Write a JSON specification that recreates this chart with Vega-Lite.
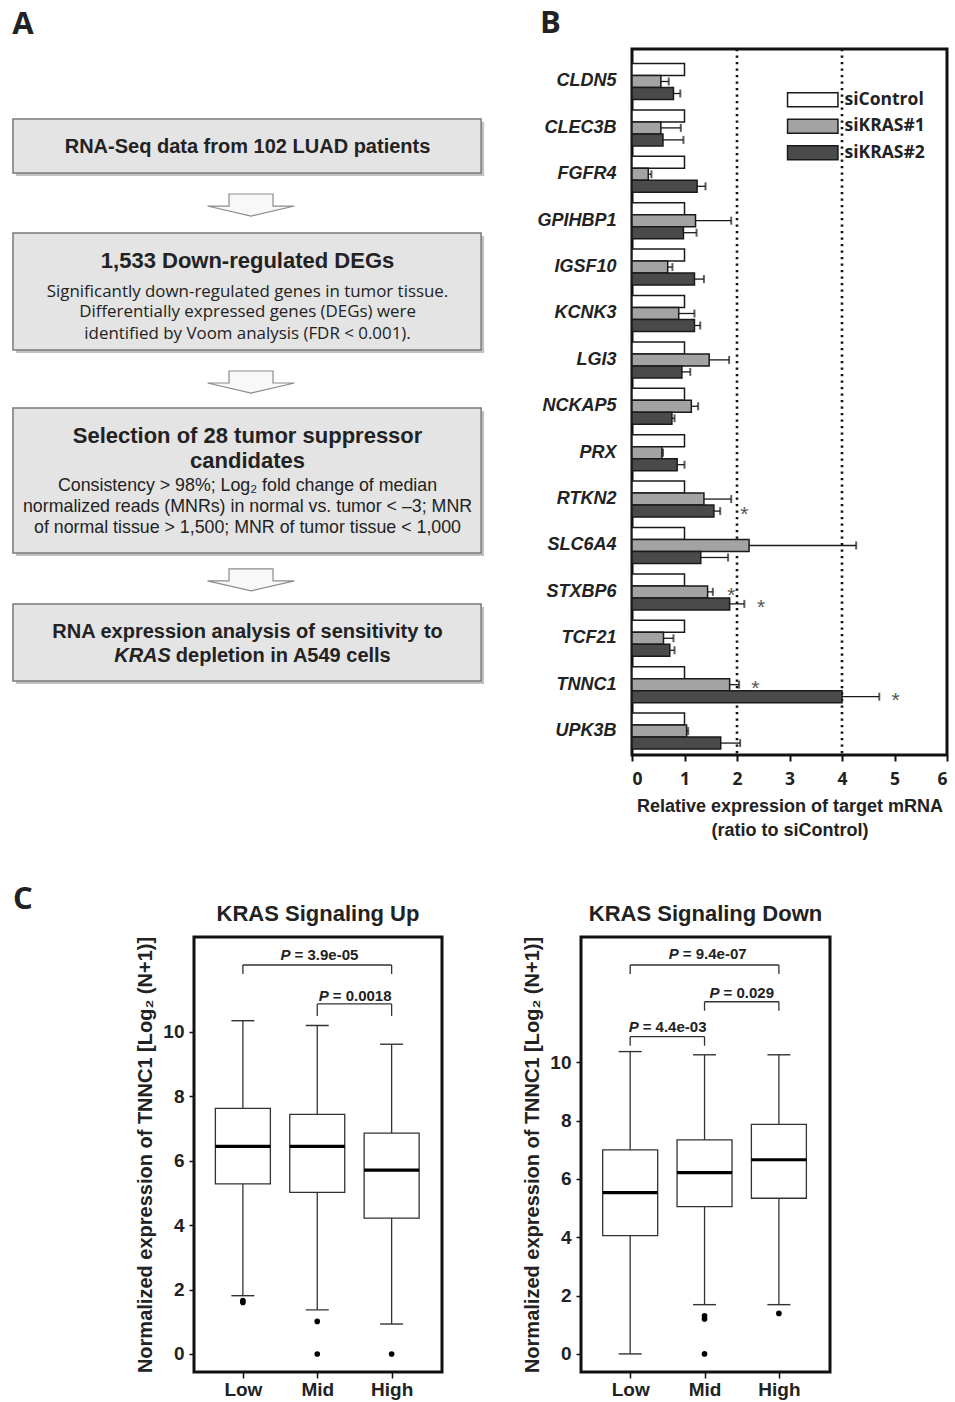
{
  "$schema": "https://vega.github.io/schema/vega-lite/v6.json",
  "background": "white",
  "padding": {"left": 12, "top": 6, "right": 4, "bottom": 4},
  "config": {
    "font": "Liberation Sans",
    "view": {"stroke": "#111111", "strokeWidth": 3},
    "axis": {"grid": false, "labelColor": "#222222", "titleColor": "#222222", "tickColor": "#111111", "titleFontWeight": "bold", "labelFontWeight": "bold"},
    "title": {"color": "#222222"}
  },
  "datasets": {
    "boxes": [
      {"x0": 0, "x1": 99.6, "y0": 9.92, "y1": 17.56},
      {"x0": 0, "x1": 99.6, "y0": 26.06, "y1": 42.63},
      {"x0": 0, "x1": 99.6, "y0": 50.85, "y1": 71.39},
      {"x0": 0, "x1": 99.6, "y0": 78.61, "y1": 89.52}
    ],
    "arrows": [
      {"ax": 50.64, "ay": 22.1},
      {"ax": 50.64, "ay": 47.17},
      {"ax": 50.64, "ay": 75.2}
    ],
    "ftext": [
      {"tx": 49.9, "ty": 14.73, "t": "RNA-Seq data from 102 LUAD patients", "k": "b"},
      {"tx": 49.9, "ty": 31.06, "t": "1,533 Down-regulated DEGs", "k": "h"},
      {"tx": 49.9, "ty": 35.06, "t": "Significantly down-regulated genes in tumor tissue.", "k": "n"},
      {"tx": 49.9, "ty": 38.03, "t": "Differentially expressed genes (DEGs) were", "k": "n"},
      {"tx": 49.9, "ty": 41.01, "t": "identified by Voom analysis (FDR < 0.001).", "k": "n"},
      {"tx": 49.9, "ty": 55.76, "t": "Selection of 28 tumor suppressor", "k": "h"},
      {"tx": 49.9, "ty": 59.39, "t": "candidates", "k": "h"},
      {"tx": 49.9, "ty": 62.61, "t": "Consistency > 98%; Log₂ fold change of median", "k": "c"},
      {"tx": 49.9, "ty": 65.62, "t": "normalized reads (MNRs) in normal vs. tumor < –3; MNR", "k": "c"},
      {"tx": 49.9, "ty": 68.51, "t": "of normal tissue > 1,500; MNR of tumor tissue < 1,000", "k": "c"},
      {"tx": 49.9, "ty": 83.47, "t": "RNA expression analysis of sensitivity to", "k": "b"},
      {"tx": 33.8, "ty": 86.78, "t": "KRAS", "k": "i"},
      {"tx": 33.8, "ty": 86.78, "t": "depletion in A549 cells", "k": "r"}
    ],
    "bars": [
      {"gene": "CLDN5", "series": "siControl", "value": 1.0},
      {"gene": "CLDN5", "series": "siKRAS#1", "value": 0.55, "hi": 0.70},
      {"gene": "CLDN5", "series": "siKRAS#2", "value": 0.79, "hi": 0.92},
      {"gene": "CLEC3B", "series": "siControl", "value": 1.0},
      {"gene": "CLEC3B", "series": "siKRAS#1", "value": 0.55, "hi": 0.93},
      {"gene": "CLEC3B", "series": "siKRAS#2", "value": 0.59, "hi": 0.98},
      {"gene": "FGFR4", "series": "siControl", "value": 1.0},
      {"gene": "FGFR4", "series": "siKRAS#1", "value": 0.31, "hi": 0.37},
      {"gene": "FGFR4", "series": "siKRAS#2", "value": 1.24, "hi": 1.40},
      {"gene": "GPIHBP1", "series": "siControl", "value": 1.0},
      {"gene": "GPIHBP1", "series": "siKRAS#1", "value": 1.21, "hi": 1.89},
      {"gene": "GPIHBP1", "series": "siKRAS#2", "value": 0.98, "hi": 1.23},
      {"gene": "IGSF10", "series": "siControl", "value": 1.0},
      {"gene": "IGSF10", "series": "siKRAS#1", "value": 0.68, "hi": 0.77},
      {"gene": "IGSF10", "series": "siKRAS#2", "value": 1.19, "hi": 1.37},
      {"gene": "KCNK3", "series": "siControl", "value": 1.0},
      {"gene": "KCNK3", "series": "siKRAS#1", "value": 0.89, "hi": 1.19},
      {"gene": "KCNK3", "series": "siKRAS#2", "value": 1.19, "hi": 1.30},
      {"gene": "LGI3", "series": "siControl", "value": 1.0},
      {"gene": "LGI3", "series": "siKRAS#1", "value": 1.47, "hi": 1.85},
      {"gene": "LGI3", "series": "siKRAS#2", "value": 0.95, "hi": 1.11},
      {"gene": "NCKAP5", "series": "siControl", "value": 1.0},
      {"gene": "NCKAP5", "series": "siKRAS#1", "value": 1.13, "hi": 1.26},
      {"gene": "NCKAP5", "series": "siKRAS#2", "value": 0.76, "hi": 0.81},
      {"gene": "PRX", "series": "siControl", "value": 1.0},
      {"gene": "PRX", "series": "siKRAS#1", "value": 0.57, "hi": 0.59},
      {"gene": "PRX", "series": "siKRAS#2", "value": 0.86, "hi": 1.00},
      {"gene": "RTKN2", "series": "siControl", "value": 1.0},
      {"gene": "RTKN2", "series": "siKRAS#1", "value": 1.37, "hi": 1.89},
      {"gene": "RTKN2", "series": "siKRAS#2", "value": 1.56, "hi": 1.68},
      {"gene": "SLC6A4", "series": "siControl", "value": 1.0},
      {"gene": "SLC6A4", "series": "siKRAS#1", "value": 2.23, "hi": 4.27},
      {"gene": "SLC6A4", "series": "siKRAS#2", "value": 1.31, "hi": 1.83},
      {"gene": "STXBP6", "series": "siControl", "value": 1.0},
      {"gene": "STXBP6", "series": "siKRAS#1", "value": 1.44, "hi": 1.54},
      {"gene": "STXBP6", "series": "siKRAS#2", "value": 1.86, "hi": 2.14},
      {"gene": "TCF21", "series": "siControl", "value": 1.0},
      {"gene": "TCF21", "series": "siKRAS#1", "value": 0.60, "hi": 0.79},
      {"gene": "TCF21", "series": "siKRAS#2", "value": 0.72, "hi": 0.81},
      {"gene": "TNNC1", "series": "siControl", "value": 1.0},
      {"gene": "TNNC1", "series": "siKRAS#1", "value": 1.86, "hi": 2.04},
      {"gene": "TNNC1", "series": "siKRAS#2", "value": 4.00, "hi": 4.71},
      {"gene": "UPK3B", "series": "siControl", "value": 1.0},
      {"gene": "UPK3B", "series": "siKRAS#1", "value": 1.04, "hi": 1.07},
      {"gene": "UPK3B", "series": "siKRAS#2", "value": 1.69, "hi": 2.06}
    ],
    "stars": [
      {"gene": "RTKN2", "series": "siKRAS#2", "sx": 2.14},
      {"gene": "STXBP6", "series": "siKRAS#1", "sx": 1.89},
      {"gene": "STXBP6", "series": "siKRAS#2", "sx": 2.46},
      {"gene": "TNNC1", "series": "siKRAS#1", "sx": 2.35},
      {"gene": "TNNC1", "series": "siKRAS#2", "sx": 5.02}
    ],
    "cbox": [
      {"p": "up", "g": 0, "lo": 1.81, "q1": 5.28, "med": 6.45, "q3": 7.63, "hi": 10.35},
      {"p": "up", "g": 1, "lo": 1.37, "q1": 5.02, "med": 6.45, "q3": 7.44, "hi": 10.2},
      {"p": "up", "g": 2, "lo": 0.93, "q1": 4.22, "med": 5.71, "q3": 6.86, "hi": 9.62},
      {"p": "down", "g": 0, "lo": 0.0, "q1": 4.06, "med": 5.53, "q3": 7.0, "hi": 10.37},
      {"p": "down", "g": 1, "lo": 1.69, "q1": 5.05, "med": 6.22, "q3": 7.34, "hi": 10.26},
      {"p": "down", "g": 2, "lo": 1.69, "q1": 5.34, "med": 6.66, "q3": 7.87, "hi": 10.26}
    ],
    "outl": [
      {"p": "up", "g": 0, "v": 1.6},
      {"p": "up", "g": 0, "v": 1.66},
      {"p": "up", "g": 1, "v": 1.01},
      {"p": "up", "g": 1, "v": 0.0},
      {"p": "up", "g": 2, "v": 0.0},
      {"p": "down", "g": 1, "v": 1.31},
      {"p": "down", "g": 1, "v": 1.2},
      {"p": "down", "g": 1, "v": 0.0},
      {"p": "down", "g": 2, "v": 1.39}
    ],
    "brk": [
      {"p": "up", "x1": 0, "x2": 2, "y": 12.08, "yl": 11.8},
      {"p": "up", "x1": 1, "x2": 2, "y": 10.87, "yl": 10.5},
      {"p": "down", "x1": 0, "x2": 2, "y": 13.34, "yl": 13.03},
      {"p": "down", "x1": 1, "x2": 2, "y": 12.08, "yl": 11.77},
      {"p": "down", "x1": 0, "x2": 1, "y": 10.88, "yl": 10.57}
    ],
    "plab": [
      {"p": "up", "lx": 0.507, "ly": 12.39, "t": "= 3.9e-05"},
      {"p": "up", "lx": 1.02, "ly": 11.13, "t": "= 0.0018"},
      {"p": "down", "lx": 0.52, "ly": 13.71, "t": "= 9.4e-07"},
      {"p": "down", "lx": 1.067, "ly": 12.38, "t": "= 0.029"},
      {"p": "down", "lx": -0.02, "ly": 11.22, "t": "= 4.4e-03"}
    ],
    "letter": [
      {"lx": 0, "ly": 1.064, "t": "C"}
    ]
  },
  "spacing": 43,
  "resolve": {"legend": {"fill": "independent"}},
  "vconcat": [
    {
      "spacing": 50,
      "resolve": {"legend": {"fill": "independent"}},
      "hconcat": [
        {
          "title": {"text": "A", "anchor": "start", "frame": "bounds", "font": "Open Sans", "fontSize": 31, "fontWeight": "bold", "offset": 8},
          "width": 470,
          "height": 706,
          "view": {"stroke": null},
          "layer": [
            {
              "data": {"name": "boxes"},
              "mark": {"type": "rect", "fill": "#8f8f8f", "opacity": 0.55, "xOffset": 3, "x2Offset": 3, "yOffset": 3, "y2Offset": 3},
              "encoding": {
                "x": {"field": "x0", "type": "quantitative", "scale": {"domain": [0, 100], "nice": false}, "axis": null},
                "x2": {"field": "x1"},
                "y": {"field": "y0", "type": "quantitative", "scale": {"domain": [0, 100], "nice": false, "reverse": true}, "axis": null},
                "y2": {"field": "y1"}
              }
            },
            {
              "data": {"name": "boxes"},
              "mark": {"type": "rect", "fill": "#e4e4e4", "stroke": "#7a7a7a", "strokeWidth": 1.5},
              "encoding": {
                "x": {"field": "x0", "type": "quantitative", "axis": null},
                "x2": {"field": "x1"},
                "y": {"field": "y0", "type": "quantitative", "axis": null},
                "y2": {"field": "y1"}
              }
            },
            {
              "data": {"name": "arrows"},
              "mark": {"type": "point", "shape": "M-0.506,-0.253L0.506,-0.253L0.506,0.023L1,0.023L0,0.253L-1,0.023L-0.506,0.023Z", "size": 7569, "filled": true, "fill": "#f8f8f8", "stroke": "#8c8c8c", "strokeWidth": 1.2, "opacity": 1},
              "encoding": {
                "x": {"field": "ax", "type": "quantitative", "axis": null},
                "y": {"field": "ay", "type": "quantitative", "axis": null}
              }
            },
            {
              "data": {"name": "ftext"},
              "transform": [{"filter": {"field": "k", "equal": "h"}}],
              "mark": {"type": "text", "font": "Liberation Sans", "fontSize": 22, "fontWeight": "bold", "color": "#222222", "align": "center", "baseline": "alphabetic"},
              "encoding": {
                "x": {"field": "tx", "type": "quantitative", "axis": null},
                "y": {"field": "ty", "type": "quantitative", "axis": null},
                "text": {"field": "t"}
              }
            },
            {
              "data": {"name": "ftext"},
              "transform": [{"filter": {"field": "k", "equal": "b"}}],
              "mark": {"type": "text", "font": "Liberation Sans", "fontSize": 20, "fontWeight": "bold", "color": "#222222", "align": "center", "baseline": "alphabetic"},
              "encoding": {
                "x": {"field": "tx", "type": "quantitative", "axis": null},
                "y": {"field": "ty", "type": "quantitative", "axis": null},
                "text": {"field": "t"}
              }
            },
            {
              "data": {"name": "ftext"},
              "transform": [{"filter": {"field": "k", "equal": "n"}}],
              "mark": {"type": "text", "font": "Open Sans", "fontSize": 16.9, "color": "#222222", "align": "center", "baseline": "alphabetic"},
              "encoding": {
                "x": {"field": "tx", "type": "quantitative", "axis": null},
                "y": {"field": "ty", "type": "quantitative", "axis": null},
                "text": {"field": "t"}
              }
            },
            {
              "data": {"name": "ftext"},
              "transform": [{"filter": {"field": "k", "equal": "c"}}],
              "mark": {"type": "text", "font": "Liberation Sans", "fontSize": 17.8, "color": "#222222", "align": "center", "baseline": "alphabetic"},
              "encoding": {
                "x": {"field": "tx", "type": "quantitative", "axis": null},
                "y": {"field": "ty", "type": "quantitative", "axis": null},
                "text": {"field": "t"}
              }
            },
            {
              "data": {"name": "ftext"},
              "transform": [{"filter": {"field": "k", "equal": "i"}}],
              "mark": {"type": "text", "font": "Liberation Sans", "fontSize": 20, "fontWeight": "bold", "fontStyle": "italic", "color": "#222222", "align": "right", "baseline": "alphabetic", "dx": -1},
              "encoding": {
                "x": {"field": "tx", "type": "quantitative", "axis": null},
                "y": {"field": "ty", "type": "quantitative", "axis": null},
                "text": {"field": "t"}
              }
            },
            {
              "data": {"name": "ftext"},
              "transform": [{"filter": {"field": "k", "equal": "r"}}],
              "mark": {"type": "text", "font": "Liberation Sans", "fontSize": 20, "fontWeight": "bold", "color": "#222222", "align": "left", "baseline": "alphabetic", "dx": 4},
              "encoding": {
                "x": {"field": "tx", "type": "quantitative", "axis": null},
                "y": {"field": "ty", "type": "quantitative", "axis": null},
                "text": {"field": "t"}
              }
            }
          ]
        },
        {
          "title": {"text": "B", "anchor": "start", "frame": "bounds", "font": "Open Sans", "fontSize": 31, "fontWeight": "bold", "offset": 8, "dx": 3},
          "width": 315,
          "height": 706,
          "layer": [
            {
              "data": {"values": [{"value": 2}, {"value": 4}]},
              "mark": {"type": "rule", "strokeDash": [2.2, 4.3], "strokeWidth": 2.6, "color": "#111111"},
              "encoding": {
                "x": {"field": "value", "type": "quantitative", "title": ["Relative expression of target mRNA", "(ratio to siControl)"]}
              }
            },
            {
              "data": {"name": "bars"},
              "mark": {"type": "bar", "stroke": "#1a1a1a", "strokeWidth": 1.5},
              "encoding": {
                "y": {"field": "gene", "type": "nominal", "sort": ["CLDN5", "CLEC3B", "FGFR4", "GPIHBP1", "IGSF10", "KCNK3", "LGI3", "NCKAP5", "PRX", "RTKN2", "SLC6A4", "STXBP6", "TCF21", "TNNC1", "UPK3B"], "scale": {"paddingInner": 0.224, "paddingOuter": 0.22, "align": 0.71}, "title": null, "axis": {"ticks": false, "domain": false, "labelFont": "Liberation Sans", "labelFontStyle": "italic", "labelFontWeight": "bold", "labelFontSize": 18, "labelPadding": 16}},
                "yOffset": {"field": "series", "type": "nominal", "sort": ["siControl", "siKRAS#1", "siKRAS#2"]},
                "x": {"field": "value", "type": "quantitative", "scale": {"domain": [0, 6], "nice": false}, "title": ["Relative expression of target mRNA", "(ratio to siControl)"], "axis": {"values": [0, 1, 2, 3, 4, 5, 6], "tickSize": 6, "tickWidth": 2, "domain": false, "labelFont": "Open Sans", "labelFontSize": 17.5, "labelFontWeight": "bold", "labelPadding": 9, "titleFont": "Liberation Sans", "titleFontSize": 18, "titleFontWeight": "bold", "titlePadding": 10, "titleLineHeight": 24}},
                "fill": {"field": "series", "type": "nominal", "scale": {"domain": ["siControl", "siKRAS#1", "siKRAS#2"], "range": ["#ffffff", "#a3a3a3", "#4a4a4a"]}, "legend": {"title": null, "orient": "none", "legendX": 172, "legendY": 42, "symbolType": "M-3.6,-1H3.6V1H-3.6Z", "symbolSize": 196, "symbolStrokeColor": "#1a1a1a", "symbolStrokeWidth": 1.5, "symbolOpacity": 1, "labelFont": "Open Sans", "labelFontSize": 17.5, "labelFontWeight": "bold", "labelColor": "#222222", "labelOffset": 23, "rowPadding": 5.5, "padding": 0}}
              }
            },
            {
              "data": {"name": "bars"},
              "transform": [{"filter": {"field": "hi", "valid": true}}],
              "mark": {"type": "rule", "color": "#1a1a1a", "strokeWidth": 1.3},
              "encoding": {
                "y": {"field": "gene", "type": "nominal", "sort": ["CLDN5", "CLEC3B", "FGFR4", "GPIHBP1", "IGSF10", "KCNK3", "LGI3", "NCKAP5", "PRX", "RTKN2", "SLC6A4", "STXBP6", "TCF21", "TNNC1", "UPK3B"], "title": null},
                "yOffset": {"field": "series", "type": "nominal", "sort": ["siControl", "siKRAS#1", "siKRAS#2"]},
                "x": {"field": "value", "type": "quantitative", "title": ["Relative expression of target mRNA", "(ratio to siControl)"]},
                "x2": {"field": "hi"}
              }
            },
            {
              "data": {"name": "bars"},
              "transform": [{"filter": {"field": "hi", "valid": true}}],
              "mark": {"type": "tick", "color": "#1a1a1a", "thickness": 2, "size": 8},
              "encoding": {
                "y": {"field": "gene", "type": "nominal", "sort": ["CLDN5", "CLEC3B", "FGFR4", "GPIHBP1", "IGSF10", "KCNK3", "LGI3", "NCKAP5", "PRX", "RTKN2", "SLC6A4", "STXBP6", "TCF21", "TNNC1", "UPK3B"], "title": null},
                "yOffset": {"field": "series", "type": "nominal", "sort": ["siControl", "siKRAS#1", "siKRAS#2"]},
                "x": {"field": "hi", "type": "quantitative", "title": ["Relative expression of target mRNA", "(ratio to siControl)"]}
              }
            },
            {
              "data": {"name": "stars"},
              "mark": {"type": "text", "text": "*", "font": "Liberation Sans", "fontSize": 21, "color": "#555555", "align": "center", "baseline": "middle", "dy": 4},
              "encoding": {
                "y": {"field": "gene", "type": "nominal", "sort": ["CLDN5", "CLEC3B", "FGFR4", "GPIHBP1", "IGSF10", "KCNK3", "LGI3", "NCKAP5", "PRX", "RTKN2", "SLC6A4", "STXBP6", "TCF21", "TNNC1", "UPK3B"], "title": null},
                "yOffset": {"field": "series", "type": "nominal", "sort": ["siControl", "siKRAS#1", "siKRAS#2"]},
                "x": {"field": "sx", "type": "quantitative", "title": ["Relative expression of target mRNA", "(ratio to siControl)"]}
              }
            }
          ]
        }
      ]
    },
    {
      "spacing": 77,
      "hconcat": [
        {
          "width": 44,
          "height": 435,
          "view": {"stroke": null},
          "data": {"name": "letter"},
          "mark": {"type": "text", "font": "Open Sans", "fontSize": 31, "fontWeight": "bold", "color": "#222222", "align": "left", "baseline": "alphabetic"},
          "encoding": {
            "x": {"field": "lx", "type": "quantitative", "scale": {"domain": [0, 1], "nice": false}, "axis": null},
            "y": {"field": "ly", "type": "quantitative", "scale": {"domain": [0, 1], "nice": false}, "axis": null},
            "text": {"field": "t"}
          }
        },
        {
          "title": {"text": "KRAS Signaling Up", "font": "Liberation Sans", "fontSize": 22, "fontWeight": "bold", "offset": 10, "anchor": "middle", "frame": "group"},
          "width": 248,
          "height": 435,
          "layer": [
            {
              "data": {"name": "cbox"},
              "transform": [{"filter": {"field": "p", "equal": "up"}}],
              "mark": {"type": "rule", "color": "#333333", "strokeWidth": 1.3},
              "encoding": {
                "x": {"field": "g", "type": "quantitative", "scale": {"domain": [-0.59, 2.61], "nice": false, "zero": false}, "title": null, "axis": {"values": [0, 1, 2], "labelExpr": "datum.value == 0 ? 'Low' : datum.value == 1 ? 'Mid' : 'High'", "tickSize": 6, "tickWidth": 1.5, "domain": false, "labelFontSize": 19, "labelFontWeight": "bold", "labelPadding": 2}},
                "y": {"field": "lo", "type": "quantitative", "scale": {"domain": [-0.56, 12.95], "nice": false, "zero": false}, "title": "Normalized expression of TNNC1 [Log₂ (N+1)]", "axis": {"values": [0, 2, 4, 6, 8, 10], "tickSize": 5, "tickWidth": 1.5, "domain": false, "labelFontSize": 19, "labelFontWeight": "bold", "labelPadding": 5, "titleFont": "Liberation Sans", "titleFontSize": 20, "titleFontWeight": "bold", "titlePadding": 7}},
                "y2": {"field": "hi"}
              }
            },
            {
              "data": {"name": "cbox"},
              "transform": [{"filter": {"field": "p", "equal": "up"}}],
              "mark": {"type": "bar", "size": 55, "fill": "white", "stroke": "#333333", "strokeWidth": 1.3},
              "encoding": {
                "x": {"field": "g", "type": "quantitative", "title": null},
                "y": {"field": "q1", "type": "quantitative", "title": "Normalized expression of TNNC1 [Log₂ (N+1)]"},
                "y2": {"field": "q3"}
              }
            },
            {
              "data": {"name": "cbox"},
              "transform": [{"filter": {"field": "p", "equal": "up"}}],
              "mark": {"type": "tick", "orient": "horizontal", "size": 55, "thickness": 3.2, "color": "#000000", "opacity": 1},
              "encoding": {
                "x": {"field": "g", "type": "quantitative", "title": null},
                "y": {"field": "med", "type": "quantitative", "title": "Normalized expression of TNNC1 [Log₂ (N+1)]"}
              }
            },
            {
              "data": {"name": "cbox"},
              "transform": [{"filter": {"field": "p", "equal": "up"}}],
              "mark": {"type": "tick", "orient": "horizontal", "size": 23, "thickness": 1.4, "color": "#333333", "opacity": 1},
              "encoding": {
                "x": {"field": "g", "type": "quantitative", "title": null},
                "y": {"field": "lo", "type": "quantitative", "title": "Normalized expression of TNNC1 [Log₂ (N+1)]"}
              }
            },
            {
              "data": {"name": "cbox"},
              "transform": [{"filter": {"field": "p", "equal": "up"}}],
              "mark": {"type": "tick", "orient": "horizontal", "size": 23, "thickness": 1.4, "color": "#333333", "opacity": 1},
              "encoding": {
                "x": {"field": "g", "type": "quantitative", "title": null},
                "y": {"field": "hi", "type": "quantitative", "title": "Normalized expression of TNNC1 [Log₂ (N+1)]"}
              }
            },
            {
              "data": {"name": "outl"},
              "transform": [{"filter": {"field": "p", "equal": "up"}}],
              "mark": {"type": "circle", "size": 32, "color": "#000000", "opacity": 1},
              "encoding": {
                "x": {"field": "g", "type": "quantitative", "title": null},
                "y": {"field": "v", "type": "quantitative", "title": "Normalized expression of TNNC1 [Log₂ (N+1)]"}
              }
            },
            {
              "data": {"name": "brk"},
              "transform": [{"filter": {"field": "p", "equal": "up"}}],
              "mark": {"type": "rule", "color": "#333333", "strokeWidth": 1.3},
              "encoding": {
                "x": {"field": "x1", "type": "quantitative", "title": null},
                "x2": {"field": "x2"},
                "y": {"field": "y", "type": "quantitative", "title": "Normalized expression of TNNC1 [Log₂ (N+1)]"}
              }
            },
            {
              "data": {"name": "brk"},
              "transform": [{"filter": {"field": "p", "equal": "up"}}],
              "mark": {"type": "rule", "color": "#333333", "strokeWidth": 1.3},
              "encoding": {
                "x": {"field": "x1", "type": "quantitative", "title": null},
                "y": {"field": "y", "type": "quantitative", "title": "Normalized expression of TNNC1 [Log₂ (N+1)]"},
                "y2": {"field": "yl"}
              }
            },
            {
              "data": {"name": "brk"},
              "transform": [{"filter": {"field": "p", "equal": "up"}}],
              "mark": {"type": "rule", "color": "#333333", "strokeWidth": 1.3},
              "encoding": {
                "x": {"field": "x2", "type": "quantitative", "title": null},
                "y": {"field": "y", "type": "quantitative", "title": "Normalized expression of TNNC1 [Log₂ (N+1)]"},
                "y2": {"field": "yl"}
              }
            },
            {
              "data": {"name": "plab"},
              "transform": [{"filter": {"field": "p", "equal": "up"}}],
              "mark": {"type": "text", "text": "P", "font": "Liberation Sans", "fontSize": 15, "fontWeight": "bold", "fontStyle": "italic", "color": "#222222", "align": "left", "baseline": "middle"},
              "encoding": {
                "x": {"field": "lx", "type": "quantitative", "title": null},
                "y": {"field": "ly", "type": "quantitative", "title": "Normalized expression of TNNC1 [Log₂ (N+1)]"}
              }
            },
            {
              "data": {"name": "plab"},
              "transform": [{"filter": {"field": "p", "equal": "up"}}],
              "mark": {"type": "text", "font": "Liberation Sans", "fontSize": 15, "fontWeight": "bold", "color": "#222222", "align": "left", "baseline": "middle", "dx": 14},
              "encoding": {
                "x": {"field": "lx", "type": "quantitative", "title": null},
                "y": {"field": "ly", "type": "quantitative", "title": "Normalized expression of TNNC1 [Log₂ (N+1)]"},
                "text": {"field": "t"}
              }
            }
          ]
        },
        {
          "title": {"text": "KRAS Signaling Down", "font": "Liberation Sans", "fontSize": 22, "fontWeight": "bold", "offset": 10, "anchor": "middle", "frame": "group"},
          "width": 249,
          "height": 435,
          "layer": [
            {
              "data": {"name": "cbox"},
              "transform": [{"filter": {"field": "p", "equal": "down"}}],
              "mark": {"type": "rule", "color": "#333333", "strokeWidth": 1.3},
              "encoding": {
                "x": {"field": "g", "type": "quantitative", "scale": {"domain": [-0.594, 2.62], "nice": false, "zero": false}, "title": null, "axis": {"values": [0, 1, 2], "labelExpr": "datum.value == 0 ? 'Low' : datum.value == 1 ? 'Mid' : 'High'", "tickSize": 6, "tickWidth": 1.5, "domain": false, "labelFontSize": 19, "labelFontWeight": "bold", "labelPadding": 2}},
                "y": {"field": "lo", "type": "quantitative", "scale": {"domain": [-0.62, 14.3], "nice": false, "zero": false}, "title": "Normalized expression of TNNC1 [Log₂ (N+1)]", "axis": {"values": [0, 2, 4, 6, 8, 10], "tickSize": 5, "tickWidth": 1.5, "domain": false, "labelFontSize": 19, "labelFontWeight": "bold", "labelPadding": 5, "titleFont": "Liberation Sans", "titleFontSize": 20, "titleFontWeight": "bold", "titlePadding": 7}},
                "y2": {"field": "hi"}
              }
            },
            {
              "data": {"name": "cbox"},
              "transform": [{"filter": {"field": "p", "equal": "down"}}],
              "mark": {"type": "bar", "size": 55, "fill": "white", "stroke": "#333333", "strokeWidth": 1.3},
              "encoding": {
                "x": {"field": "g", "type": "quantitative", "title": null},
                "y": {"field": "q1", "type": "quantitative", "title": "Normalized expression of TNNC1 [Log₂ (N+1)]"},
                "y2": {"field": "q3"}
              }
            },
            {
              "data": {"name": "cbox"},
              "transform": [{"filter": {"field": "p", "equal": "down"}}],
              "mark": {"type": "tick", "orient": "horizontal", "size": 55, "thickness": 3.2, "color": "#000000", "opacity": 1},
              "encoding": {
                "x": {"field": "g", "type": "quantitative", "title": null},
                "y": {"field": "med", "type": "quantitative", "title": "Normalized expression of TNNC1 [Log₂ (N+1)]"}
              }
            },
            {
              "data": {"name": "cbox"},
              "transform": [{"filter": {"field": "p", "equal": "down"}}],
              "mark": {"type": "tick", "orient": "horizontal", "size": 23, "thickness": 1.4, "color": "#333333", "opacity": 1},
              "encoding": {
                "x": {"field": "g", "type": "quantitative", "title": null},
                "y": {"field": "lo", "type": "quantitative", "title": "Normalized expression of TNNC1 [Log₂ (N+1)]"}
              }
            },
            {
              "data": {"name": "cbox"},
              "transform": [{"filter": {"field": "p", "equal": "down"}}],
              "mark": {"type": "tick", "orient": "horizontal", "size": 23, "thickness": 1.4, "color": "#333333", "opacity": 1},
              "encoding": {
                "x": {"field": "g", "type": "quantitative", "title": null},
                "y": {"field": "hi", "type": "quantitative", "title": "Normalized expression of TNNC1 [Log₂ (N+1)]"}
              }
            },
            {
              "data": {"name": "outl"},
              "transform": [{"filter": {"field": "p", "equal": "down"}}],
              "mark": {"type": "circle", "size": 32, "color": "#000000", "opacity": 1},
              "encoding": {
                "x": {"field": "g", "type": "quantitative", "title": null},
                "y": {"field": "v", "type": "quantitative", "title": "Normalized expression of TNNC1 [Log₂ (N+1)]"}
              }
            },
            {
              "data": {"name": "brk"},
              "transform": [{"filter": {"field": "p", "equal": "down"}}],
              "mark": {"type": "rule", "color": "#333333", "strokeWidth": 1.3},
              "encoding": {
                "x": {"field": "x1", "type": "quantitative", "title": null},
                "x2": {"field": "x2"},
                "y": {"field": "y", "type": "quantitative", "title": "Normalized expression of TNNC1 [Log₂ (N+1)]"}
              }
            },
            {
              "data": {"name": "brk"},
              "transform": [{"filter": {"field": "p", "equal": "down"}}],
              "mark": {"type": "rule", "color": "#333333", "strokeWidth": 1.3},
              "encoding": {
                "x": {"field": "x1", "type": "quantitative", "title": null},
                "y": {"field": "y", "type": "quantitative", "title": "Normalized expression of TNNC1 [Log₂ (N+1)]"},
                "y2": {"field": "yl"}
              }
            },
            {
              "data": {"name": "brk"},
              "transform": [{"filter": {"field": "p", "equal": "down"}}],
              "mark": {"type": "rule", "color": "#333333", "strokeWidth": 1.3},
              "encoding": {
                "x": {"field": "x2", "type": "quantitative", "title": null},
                "y": {"field": "y", "type": "quantitative", "title": "Normalized expression of TNNC1 [Log₂ (N+1)]"},
                "y2": {"field": "yl"}
              }
            },
            {
              "data": {"name": "plab"},
              "transform": [{"filter": {"field": "p", "equal": "down"}}],
              "mark": {"type": "text", "text": "P", "font": "Liberation Sans", "fontSize": 15, "fontWeight": "bold", "fontStyle": "italic", "color": "#222222", "align": "left", "baseline": "middle"},
              "encoding": {
                "x": {"field": "lx", "type": "quantitative", "title": null},
                "y": {"field": "ly", "type": "quantitative", "title": "Normalized expression of TNNC1 [Log₂ (N+1)]"}
              }
            },
            {
              "data": {"name": "plab"},
              "transform": [{"filter": {"field": "p", "equal": "down"}}],
              "mark": {"type": "text", "font": "Liberation Sans", "fontSize": 15, "fontWeight": "bold", "color": "#222222", "align": "left", "baseline": "middle", "dx": 14},
              "encoding": {
                "x": {"field": "lx", "type": "quantitative", "title": null},
                "y": {"field": "ly", "type": "quantitative", "title": "Normalized expression of TNNC1 [Log₂ (N+1)]"},
                "text": {"field": "t"}
              }
            }
          ]
        }
      ]
    }
  ]
}
